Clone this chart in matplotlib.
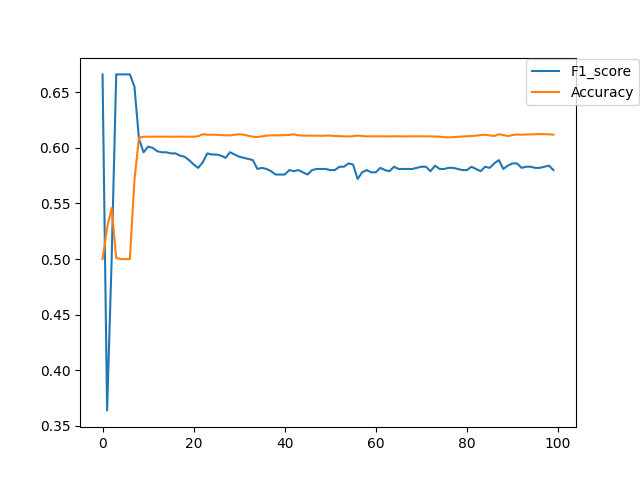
import matplotlib
matplotlib.use('Agg')
import matplotlib.pyplot as plt

# per-epoch metrics
f1_score = [
    0.666, 0.364, 0.500, 0.666, 0.666, 0.666, 0.666, 0.655, 0.608, 0.596,
    0.601, 0.600, 0.597, 0.596, 0.596, 0.595, 0.595, 0.593, 0.592, 0.589,
    0.585, 0.582, 0.587, 0.595, 0.594, 0.594, 0.593, 0.591, 0.596, 0.594,
    0.592, 0.591, 0.590, 0.589, 0.581, 0.582, 0.581, 0.579, 0.576, 0.576,
    0.576, 0.580, 0.579, 0.580, 0.578, 0.576, 0.580, 0.581, 0.581, 0.581,
    0.580, 0.580, 0.583, 0.583, 0.586, 0.585, 0.572, 0.578, 0.580, 0.578,
    0.578, 0.582, 0.580, 0.579, 0.583, 0.581, 0.581, 0.581, 0.581, 0.582,
    0.583, 0.583, 0.579, 0.584, 0.581, 0.581, 0.582, 0.582, 0.581, 0.580,
    0.580, 0.583, 0.581, 0.579, 0.583, 0.582, 0.586, 0.589, 0.581, 0.584,
    0.586, 0.586, 0.582, 0.583, 0.583, 0.582, 0.582, 0.583, 0.584, 0.580,
]
accuracy = [
    0.500, 0.528, 0.546, 0.501, 0.500, 0.500, 0.500, 0.571, 0.609, 0.6100,
    0.6100, 0.6100, 0.6101, 0.6100, 0.6101, 0.6100, 0.6100, 0.6101, 0.6100, 0.6100,
    0.6100, 0.6105, 0.6122, 0.6118, 0.6118, 0.6117, 0.6115, 0.6112, 0.6112, 0.6118,
    0.6122, 0.6118, 0.6108, 0.6100, 0.6097, 0.6103, 0.6110, 0.6112, 0.6112, 0.6113,
    0.6114, 0.6116, 0.6122, 0.6112, 0.6110, 0.6110, 0.6109, 0.6110, 0.6108, 0.6110,
    0.6110, 0.6106, 0.6105, 0.6103, 0.6102, 0.6105, 0.6110, 0.6106, 0.6103, 0.6103,
    0.6104, 0.6103, 0.6103, 0.6103, 0.6104, 0.6103, 0.6103, 0.6103, 0.6103, 0.6104,
    0.6103, 0.6103, 0.6103, 0.6102, 0.6100, 0.6096, 0.6094, 0.6096, 0.6099, 0.6102,
    0.6104, 0.6106, 0.6110, 0.6114, 0.6118, 0.6112, 0.6106, 0.6122, 0.6115, 0.6106,
    0.6115, 0.6120, 0.6118, 0.6120, 0.6121, 0.6122, 0.6124, 0.6123, 0.6121, 0.6119,
]
epochs = list(range(len(f1_score)))

fig, ax = plt.subplots(figsize=(6.4, 4.8), dpi=100)
ax.plot(epochs, f1_score, label='F1_score')
ax.plot(epochs, accuracy, label='Accuracy')
ax.legend(loc='upper right', bbox_to_anchor=(1.142, 1.015))
fig.savefig('out.png', dpi=100)
